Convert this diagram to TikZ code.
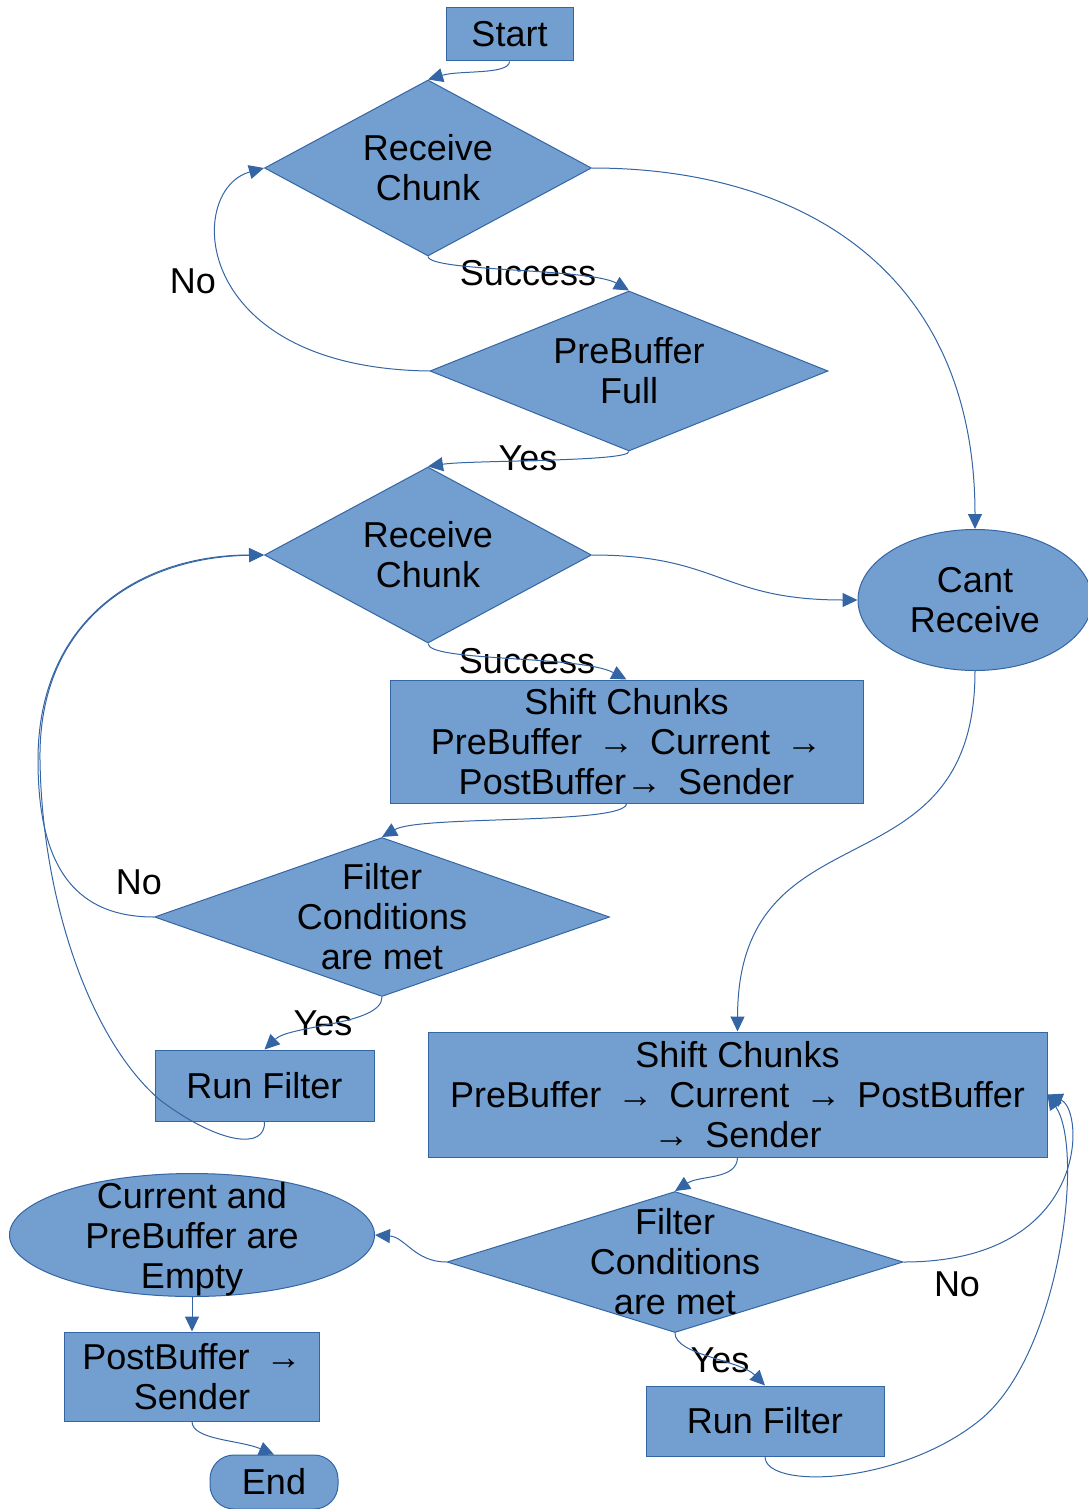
\documentclass[tikz,border=0pt]{standalone}
\usepackage{fontspec}
\setmainfont{Liberation Sans}
\usepackage{tikz}
\usetikzlibrary{arrows.meta,shapes.geometric}

\definecolor{boxfill}{HTML}{729FCF}
\definecolor{boxline}{HTML}{3465A4}

\begin{document}
\begin{tikzpicture}[x=0.5pt, y=0.5pt,
  every node/.style={font=\fontsize{18}{20}\selectfont, align=center, inner sep=0pt},
  box/.style={draw=boxline, fill=boxfill, line width=0.5pt},
  decision/.style={box, diamond},
  oval/.style={box, ellipse},
  arr/.style={draw=boxline, line width=0.5pt, -{Triangle[length=7.5pt, width=7pt]}}]
\useasboundingbox (0,0) rectangle (1087,-1509);

% upper part
\node (start) [box, minimum width=63.5pt, minimum height=26.5pt] at (509.5,-34.5) {Start};
\node (rc1) [decision, minimum width=163.5pt, minimum height=88pt] at (428,-168) {};
\node (rc1t) at (rc1) {Receive\\Chunk};
\node (pbf) [decision, minimum width=199pt, minimum height=80pt] at (629,-371) {};
\node (pbft) at (pbf) {PreBuffer\\Full};
\node (rc2) [decision, minimum width=163.5pt, minimum height=88pt] at (428,-555) {};
\node (rc2t) at (rc2) {Receive\\Chunk};
\node (cant) [oval, minimum width=117pt, minimum height=70.5pt] at (975,-600) {};
\node (cantt) at (cant) {Cant\\Receive};
\node (sc1) [box, minimum width=236.5pt, minimum height=61.5pt] at (626.5,-741.5) {Shift Chunks\\PreBuffer \,→\, Current \,→\\PostBuffer→\, Sender};
\node (fc1) [decision, minimum width=227.5pt, minimum height=79.5pt] at (382,-917) {};
\node (fc1t) at (fc1) {Filter\\Conditions\\are met};
\node (rf1) [box, minimum width=109.5pt, minimum height=35.5pt] at (264.5,-1085.5) {Run Filter};

% lower part
\node (sc2) [box, minimum width=309.5pt, minimum height=62.5pt] at (737.5,-1094.5) {Shift Chunks\\PreBuffer \,→\, Current \,→\, PostBuffer\\→\, Sender};
\node (fc2) [decision, minimum width=228pt, minimum height=70.5pt] at (675,-1262) {};
\node (fc2t) at (fc2) {Filter\\Conditions\\are met};
\node (rf2) [box, minimum width=119pt, minimum height=35pt] at (765,-1421) {Run Filter};
\node (empty) [oval, minimum width=182.5pt, minimum height=61.5pt] at (192,-1235) {};
\node (emptyt) at (192,-1239) {Current and\\PreBuffer are\\Empty};
\node (pbs) [box, minimum width=127.5pt, minimum height=44.5pt] at (192,-1376.5) {PostBuffer \,→\\Sender};
\node (finish) [box, rounded corners=12pt, minimum width=64pt, minimum height=27pt] at (274,-1482) {End};

% labels
\node (succ1) at (528,-273) {Success};
\node (no1) at (193,-281) {No};
\node (yes1) at (528,-458) {Yes};
\node (succ2) at (527,-661) {Success};
\node (no2) at (139,-882) {No};
\node (yes2) at (323,-1023) {Yes};
\node (no3) at (957,-1284) {No};
\node (yes3) at (720,-1360) {Yes};

\draw[arr] (start.south) .. controls (509,-75) and (460,-70) .. (rc1.north);
\draw[arr] (rc1.south) .. controls (430,-272) and (590,-268) .. (pbf.north);
\draw[arr] (pbf.west) .. controls (190,-368) and (185,-190) .. (rc1.west);
\draw[arr] (pbf.south) .. controls (629,-462) and (470,-460) .. (rc2.north);
\draw[arr] (rc1.east) .. controls (800,-168) and (975,-270) .. (cant.north);
\draw[arr] (rc2.east) .. controls (720,-555) and (720,-600) .. (cant.west);
\draw[arr] (rc2.south) .. controls (428,-662) and (580,-655) .. (sc1.north);
\draw[arr] (sc1.south) .. controls (626,-825) and (420,-815) .. (fc1.north);
\draw[arr] (fc1.west) .. controls (70,-917) and (38,-860) .. (38,-760)
  .. controls (38,-620) and (140,-555) .. (rc2.west);
\draw[arr] (fc1.south) .. controls (382,-1025) and (290,-1025) .. (rf1.north);
\draw[arr] (rf1.south) .. controls (266,-1150) and (220,-1145) .. (160,-1100)
  .. controls (90,-1040) and (42,-900) .. (40,-760)
  .. controls (38,-620) and (140,-557) .. (rc2.west);
\draw[arr] (cant.south) .. controls (975,-900) and (738,-800) .. (sc2.north);
\draw[arr] (sc2.south) .. controls (737,-1180) and (700,-1175) .. (fc2.north);
\draw[arr] (fc2.west) .. controls (415,-1262) and (405,-1237) .. (empty.east);
\draw[arr] (fc2.east) .. controls (1090,-1262) and (1085,-1110) .. (sc2.east);
\draw[arr] (fc2.south) .. controls (675,-1355) and (740,-1360) .. (rf2.north);
\draw[arr] (rf2.south) .. controls (765,-1490) and (900,-1485) .. (980,-1420)
  .. controls (1060,-1355) and (1085,-1150) .. (sc2.east);
\draw[arr] (empty.south) -- (pbs.north);
\draw[arr] (pbs.south) .. controls (192,-1440) and (240,-1440) .. (finish.north);
\end{tikzpicture}
\end{document}
